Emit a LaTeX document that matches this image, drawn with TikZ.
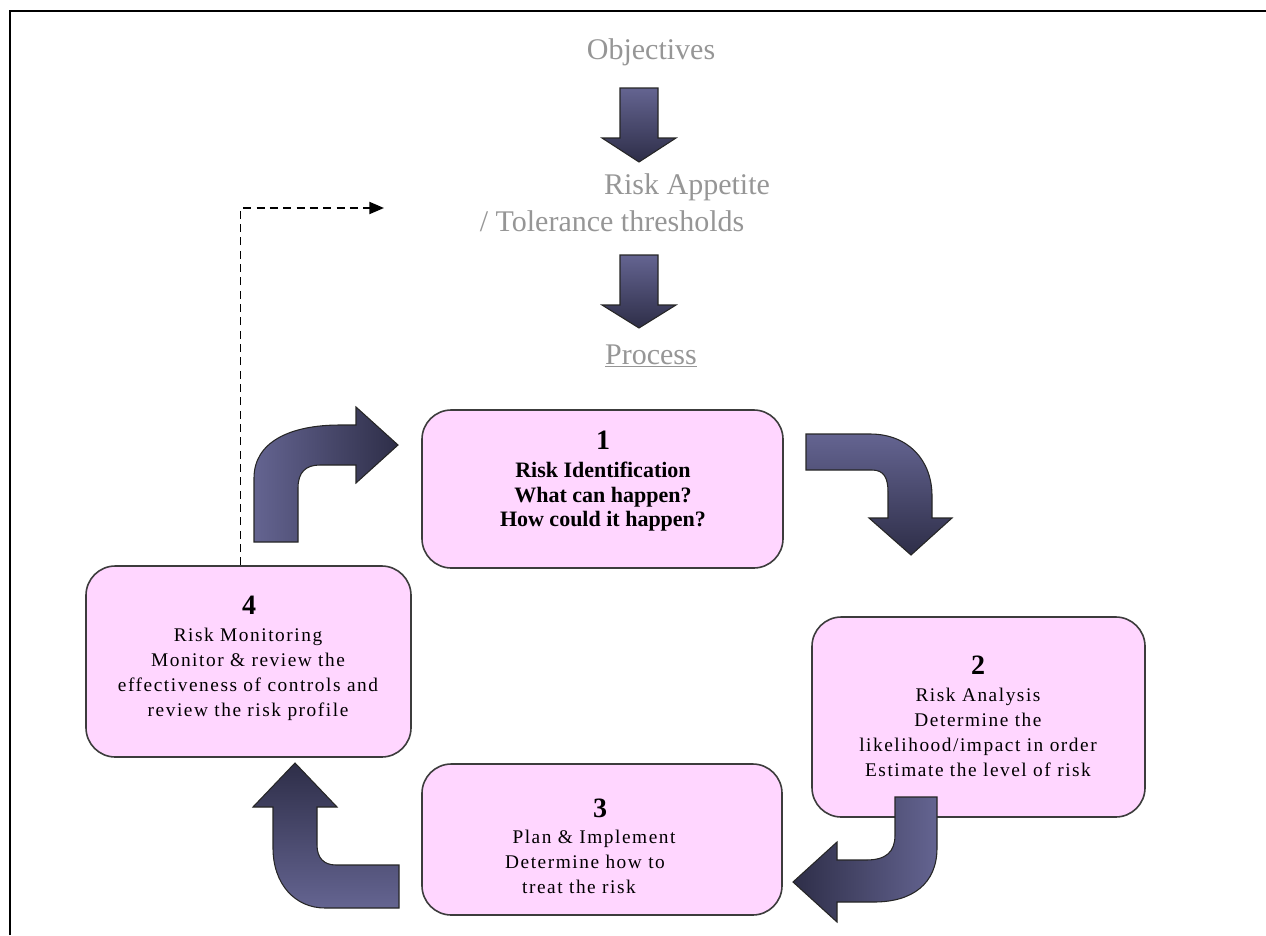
\documentclass[tikz,border=0pt]{standalone}
\usepackage{fontspec}
\setmainfont{Liberation Serif}
\usetikzlibrary{arrows.meta}
\definecolor{boxfill}{RGB}{255,214,255}
\definecolor{boxline}{RGB}{60,60,60}
\definecolor{arrlight}{RGB}{100,100,145}
\definecolor{arrdark}{RGB}{46,46,72}
\definecolor{greytext}{RGB}{150,150,150}
\tikzset{
  stagebox/.style={draw=boxline, line width=1.2pt, fill=boxfill, rounded corners=22pt, inner sep=0pt},
  bigarrow/.style={draw=black!85, line width=0.8pt},
  numtext/.style={font=\fontsize{21}{24}\selectfont\bfseries, inner sep=0pt},
  bodytext/.style={font=\fontsize{14.5}{18.75}\selectfont\addfontfeatures{LetterSpace=8}, align=center, inner sep=0pt},
  boldtext/.style={font=\fontsize{16.5}{18.4}\selectfont\bfseries, align=center, inner sep=0pt},
  toptext/.style={font=\fontsize{22.5}{26}\selectfont, text=greytext, inner sep=0pt},
  dashlink/.style={dashed, dash pattern=on 6pt off 4pt, line width=1.4pt, -{Triangle[length=11pt,width=9pt]}}
}
\begin{document}
\begin{tikzpicture}[x=0.75pt, y=-0.75pt]
\useasboundingbox (0,0) rectangle (1266,935);
% frame
\draw[line width=1.6pt] (10,935) -- (10,11) -- (1266,11);

% top texts
\node[toptext] (obj) at (651,52) {Objectives};
\node[toptext] (app) at (687,187) {Risk Appetite};
\node[toptext] (tol) at (612,221) {/ Tolerance thresholds};
\node[toptext] (proc) at (651,356) {\underline{Process}};

% straight down arrows
\shadedraw[bigarrow, top color=arrlight, bottom color=arrdark]
  (620,88) -- (658,88) -- (658,138) -- (676,138) -- (639,162) -- (602,138) -- (620,138) -- cycle;
\shadedraw[bigarrow, top color=arrlight, bottom color=arrdark]
  (620,255) -- (658,255) -- (658,305) -- (676,305) -- (639,328) -- (602,305) -- (620,305) -- cycle;

% boxes
\node[stagebox, minimum width=361*0.75pt, minimum height=158*0.75pt] (b1) at (602.5,489) {};
\node[stagebox, minimum width=333*0.75pt, minimum height=200*0.75pt] (b2) at (978.5,717) {};
\node[stagebox, minimum width=360*0.75pt, minimum height=151*0.75pt] (b3) at (602,839.5) {};
\node[stagebox, minimum width=325*0.75pt, minimum height=191*0.75pt] (b4) at (248.5,661.5) {};

% box texts
\node[numtext] (n1) at (603,440) {1};
\node[boldtext] (t1) at (603,497) {Risk Identification\\What can happen?\\How could it happen?};
\node[numtext] (n2) at (978,665) {2};
\node[bodytext] (t2) at (978,732.5) {Risk Analysis\\Determine the\\likelihood/impact in order\\Estimate the level of risk};
\node[numtext] (n3) at (600,808) {3};
\node[bodytext] (t3) at (585,862) {\hspace*{13.5pt}Plan \& Implement\\Determine how to\hspace*{13.5pt}\\treat the risk\hspace*{9pt}};
\node[numtext] (n4) at (249,605) {4};
\node[bodytext] (t4) at (248,674) {Risk Monitoring\\Monitor \& review the\\effectiveness of controls and\\review the risk profile};

% curved arrows
% 4 -> 1
\shadedraw[bigarrow, left color=arrlight, right color=arrdark]
  (254,542) -- (254,478) .. controls (254,442) and (290,425) .. (340,425) -- (356,425)
  -- (356,407) -- (398,445) -- (356,483) -- (356,465) -- (320,465)
  .. controls (306,465) and (298,472) .. (298,488) -- (298,542) -- cycle;
% 1 -> 2
\shadedraw[bigarrow, top color=arrlight, bottom color=arrdark]
  (806,434) -- (870,434) .. controls (908,434) and (932,460) .. (932,496) -- (932,518)
  -- (952,518) -- (911,555) -- (869,518) -- (888,518) -- (888,492)
  .. controls (888,478) and (884,470) .. (872,470) -- (806,470) -- cycle;
% 2 -> 3
\shadedraw[bigarrow, left color=arrdark, right color=arrlight]
  (937,797) -- (937,848) .. controls (937,884) and (912,902) .. (874,902) -- (837,902)
  -- (837,922) -- (793,882) -- (837,842) -- (837,860) -- (866,860)
  .. controls (886,860) and (895,852) .. (895,835) -- (895,797) -- cycle;
% 3 -> 4
\shadedraw[bigarrow, top color=arrdark, bottom color=arrlight]
  (399,865) -- (336,865) .. controls (324,865) and (317,858) .. (317,845) -- (317,807)
  -- (337,807) -- (295,763) -- (253,807) -- (273,807) -- (273,848)
  .. controls (273,884) and (295,908) .. (325,908) -- (399,908) -- cycle;

% dashed feedback link
\coordinate (dtip) at (384,208);
\draw[dashlink] ([xshift=-6pt]b4.north) |- (dtip);
\end{tikzpicture}
\end{document}
